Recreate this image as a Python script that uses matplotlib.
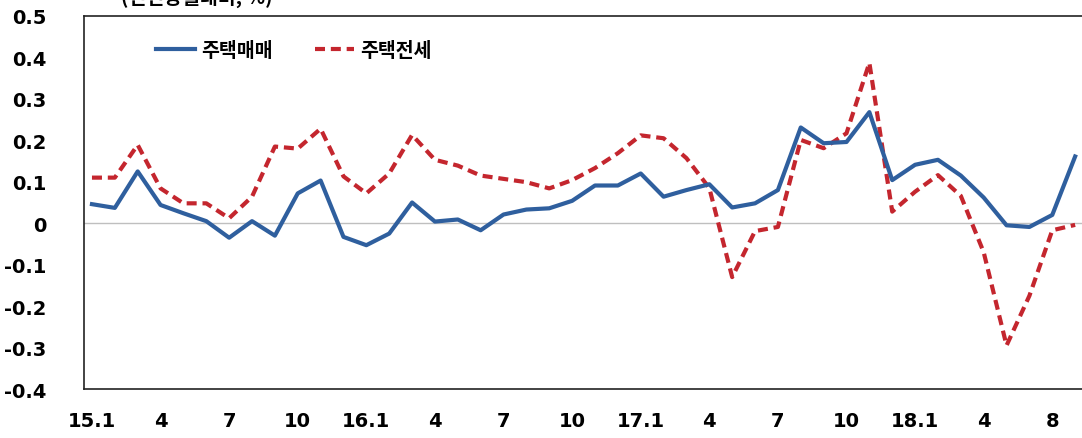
import numpy as np
import matplotlib
matplotlib.use('Agg')
import matplotlib.pyplot as plt

plt.rcParams['font.family'] = ['Noto Sans CJK KR', 'DejaVu Sans']

# 월별 (15.1 ~ 18.8), 전년동월대비 %
months = ['15.1', '15.2', '15.3', '15.4', '15.5', '15.6', '15.7', '15.8', '15.9', '15.10', '15.11', '15.12',
          '16.1', '16.2', '16.3', '16.4', '16.5', '16.6', '16.7', '16.8', '16.9', '16.10', '16.11', '16.12',
          '17.1', '17.2', '17.3', '17.4', '17.5', '17.6', '17.7', '17.8', '17.9', '17.10', '17.11', '17.12',
          '18.1', '18.2', '18.3', '18.4', '18.5', '18.6', '18.7', '18.8']

maemae = [0.046, 0.037, 0.125, 0.044, 0.024, 0.005, -0.035, 0.005, -0.030, 0.072, 0.103, -0.033,
          -0.053, -0.025, 0.050, 0.004, 0.009, -0.017, 0.021, 0.033, 0.036, 0.054, 0.091, 0.091,
          0.120, 0.064, 0.080, 0.094, 0.038, 0.048, 0.080, 0.231, 0.193, 0.196, 0.268, 0.104,
          0.141, 0.153, 0.115, 0.062, -0.005, -0.009, 0.020, 0.161]

jeonse = [0.110, 0.110, 0.189, 0.084, 0.048, 0.048, 0.012, 0.064, 0.185, 0.180, 0.228, 0.113,
          0.072, 0.120, 0.213, 0.153, 0.139, 0.115, 0.107, 0.099, 0.084, 0.104, 0.133, 0.169,
          0.212, 0.205, 0.157, 0.085, -0.130, -0.019, -0.009, 0.201, 0.181, 0.217, 0.387, 0.028,
          0.076, 0.116, 0.066, -0.070, -0.295, -0.175, -0.017, -0.004]

tick_pos = [0, 3, 6, 9, 12, 15, 18, 21, 24, 27, 30, 33, 36, 39, 42]
tick_lab = ['15.1', '4', '7', '10', '16.1', '4', '7', '10', '17.1', '4', '7', '10', '18.1', '4', '8']
y_ticks = [0.5, 0.4, 0.3, 0.2, 0.1, 0, -0.1, -0.2, -0.3, -0.4]

fig = plt.figure(figsize=(10.82, 4.39), dpi=100)
ax = fig.add_axes([0.0776, 0.1116, 0.9224, 0.8497])

x = np.arange(len(months))
ax.axhline(0, color='#bfbfbf', lw=1, zorder=1)
ax.plot(x, maemae, color='#2f5f9e', lw=3, label='주택매매', zorder=3)
ax.plot(x, jeonse, color='#c4262e', lw=3, ls=(0, (2.4, 1.4)), label='주택전세', zorder=2)

ax.set_xlim(-0.35, 43.3)
ax.set_ylim(-0.4, 0.5)
ax.set_xticks(tick_pos)
ax.set_xticklabels(tick_lab)
ax.set_yticks(y_ticks)
ax.set_yticklabels(['0.5', '0.4', '0.3', '0.2', '0.1', '0', '-0.1', '-0.2', '-0.3', '-0.4'])
ax.tick_params(length=0, labelsize=14)
ax.tick_params(axis='x', pad=16)
ax.tick_params(axis='y', pad=27)
for t in ax.get_xticklabels() + ax.get_yticklabels():
    t.set_fontweight('bold')
    t.set_family(['DejaVu Sans'])

for s in ['left', 'top', 'bottom']:
    ax.spines[s].set_color('#222222')
    ax.spines[s].set_linewidth(1.2)
ax.spines['right'].set_visible(False)

leg = ax.legend(loc='upper left', bbox_to_anchor=(0.055, 0.98), ncol=2, frameon=False,
                handlelength=2.0, columnspacing=2.2, handletextpad=0.3,
                prop={'family': 'Noto Sans CJK KR', 'weight': 'bold', 'size': 14})

# 단위 표기 (그림 상단에서 잘려 있음)
fig.text(0.112, 1.005, '(전년동월대비, %)', fontsize=14, fontweight='bold', va='center', ha='left')

fig.savefig('out.png', dpi=100)
